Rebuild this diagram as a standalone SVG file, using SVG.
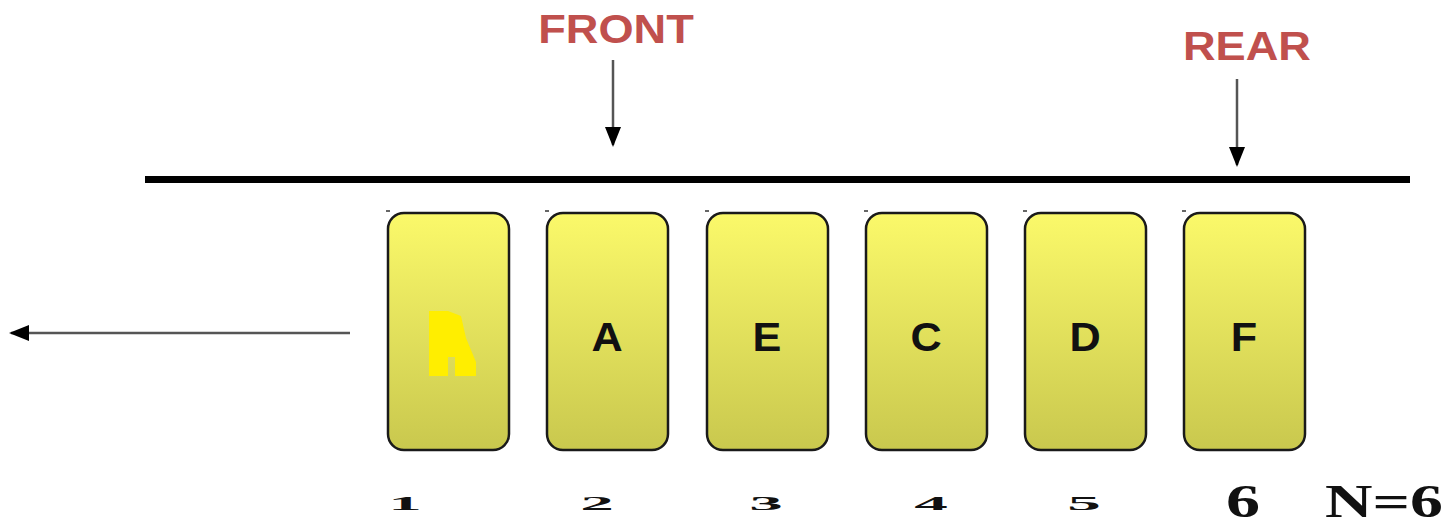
<svg xmlns="http://www.w3.org/2000/svg" width="1451" height="525" viewBox="0 0 1451 525">
<style>
.lbl{font-family:"Liberation Sans",Arial,sans-serif;font-weight:bold;fill:#c0504d;font-size:40px;text-anchor:middle}
.box{fill:url(#g);stroke:#1a1a1a;stroke-width:2.5}
.let{font-family:"Liberation Sans",Arial,sans-serif;font-weight:bold;font-size:40px;fill:#111;text-anchor:middle}
.num{font-family:"Liberation Serif","Times New Roman",serif;font-weight:bold;font-size:24px;fill:#111;text-anchor:middle}
.big{font-family:"Liberation Serif","Times New Roman",serif;font-weight:bold;font-size:47px;fill:#111}
.tick{stroke:#333;stroke-width:1.5}
</style>
<defs>
<linearGradient id="g" x1="0" y1="0" x2="0" y2="1">
<stop offset="0" stop-color="#fbf96a"/>
<stop offset="1" stop-color="#c9c84e"/>
</linearGradient>
<marker id="ahb" viewBox="0 0 10 10" refX="9" refY="5" markerWidth="20" markerHeight="16" orient="auto" markerUnits="userSpaceOnUse" preserveAspectRatio="none">
<path d="M0,0 L10,5 L0,10 z" fill="#000"/>
</marker>
</defs>
<g id="labels">
<text class="lbl" transform="translate(616,43) scale(1.13,1)">FRONT</text>
<text class="lbl" transform="translate(1247,60) scale(1.13,1)">REAR</text>
</g>
<rect id="queue-line" x="145" y="176" width="1265" height="7" fill="#000"/>
<g id="connectors">
<line x1="613" y1="60" x2="613" y2="145" stroke="#555" stroke-width="2.5" marker-end="url(#ahb)"/>
<line x1="1237" y1="79" x2="1237" y2="165" stroke="#555" stroke-width="2.5" marker-end="url(#ahb)"/>
<line x1="350" y1="333" x2="11" y2="333" stroke="#555" stroke-width="2.5" marker-end="url(#ahb)"/>
</g>
<g id="node1">
<line class="tick" x1="386" y1="211" x2="390" y2="211"/>
<rect class="box" x="388" y="213" width="121" height="237" rx="16"/>
<polygon points="429,311 448,311 461,316 466,338 476,362 476,376 455,376 455,357 448,357 448,376 429,376" fill="#ffee00"/>
</g>
<g id="node2">
<line class="tick" x1="545" y1="211" x2="549" y2="211"/>
<rect class="box" x="547" y="213" width="121" height="237" rx="16"/>
<text class="let" transform="translate(607,351) scale(1.08,1)">A</text>
</g>
<g id="node3">
<line class="tick" x1="705" y1="211" x2="709" y2="211"/>
<rect class="box" x="707" y="213" width="121" height="237" rx="16"/>
<text class="let" transform="translate(767,351) scale(1.08,1)">E</text>
</g>
<g id="node4">
<line class="tick" x1="864" y1="211" x2="868" y2="211"/>
<rect class="box" x="866" y="213" width="121" height="237" rx="16"/>
<text class="let" transform="translate(926,351) scale(1.08,1)">C</text>
</g>
<g id="node5">
<line class="tick" x1="1023" y1="211" x2="1027" y2="211"/>
<rect class="box" x="1025" y="213" width="121" height="237" rx="16"/>
<text class="let" transform="translate(1085,351) scale(1.08,1)">D</text>
</g>
<g id="node6">
<line class="tick" x1="1182" y1="211" x2="1186" y2="211"/>
<rect class="box" x="1184" y="213" width="121" height="237" rx="16"/>
<text class="let" transform="translate(1244,351) scale(1.08,1)">F</text>
</g>
<g id="numbers">
<text class="num" transform="translate(405,510) scale(2.8,0.8)">1</text>
<text class="num" transform="translate(597,510) scale(2.8,0.8)">2</text>
<text class="num" transform="translate(766,510) scale(2.8,0.8)">3</text>
<text class="num" transform="translate(931,510) scale(2.8,0.8)">4</text>
<text class="num" transform="translate(1084,510) scale(2.8,0.8)">5</text>
<text class="big" text-anchor="middle" transform="translate(1243,517) scale(1.45,1)">6</text>
<text class="big" transform="translate(1325,517) scale(1.4,1)">N=6</text>
</g>
</svg>
